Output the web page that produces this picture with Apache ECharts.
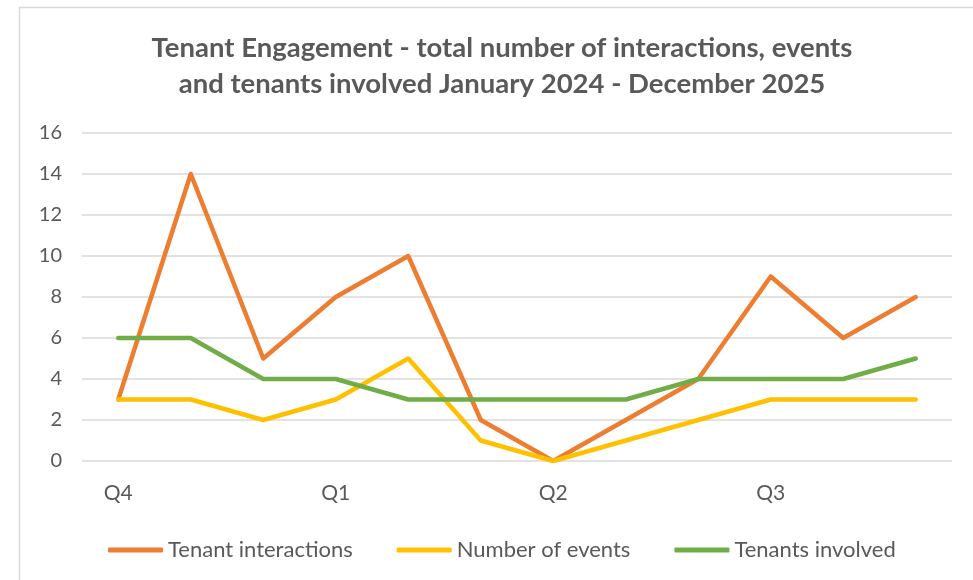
<!DOCTYPE html>
<html>
<head>
<meta charset="utf-8">
<script src="https://cdn.jsdelivr.net/npm/echarts@6/dist/echarts.min.js"></script>
<style>
    html, body { margin: 0; padding: 0; background: #fff; }
    #chart { width: 973px; height: 580px; }
</style>
</head>
<body>
<div id="chart"></div>
<script>
// 横轴：每个季度三个点，只在季度开头写标签
const categories = ['Q4', '', '', 'Q1', '', '', 'Q2', '', '', 'Q3', '', '']
const interactions = [3, 14, 5, 8, 10, 2, 0, 2, 4, 9, 6, 8]
const events = [3, 3, 2, 3, 5, 1, 0, 1, 2, 3, 3, 3]
const tenants = [6, 6, 4, 4, 3, 3, 3, 3, 4, 4, 4, 5]
const seriesNames = ['Tenant interactions', 'Number of events', 'Tenants involved']

const font = 'Lato, "Liberation Sans", sans-serif'
const grey = '#595959'

function makeLine (name, data, color) {
    return {
        name,
        type: 'line',
        data,
        symbol: 'none',
        lineStyle: { color, width: 4.5, cap: 'round', join: 'round' },
        itemStyle: { color }
    }
}

const chart = echarts.init(document.getElementById('chart'))
const option = {
    animation: false,
    textStyle: { fontFamily: font },
    title: {
        text: 'Tenant Engagement - total number of interactions, events\nand tenants involved January 2024 - December 2025',
        left: 497,
        top: 25,
        textAlign: 'center',
        textStyle: {
            fontFamily: font,
            fontSize: 27.5,
            fontWeight: 'bold',
            color: grey,
            lineHeight: 36
        }
    },
    // 外框
    graphic: [{
        type: 'rect',
        shape: { x: 19.5, y: 7.5, width: 1000, height: 1000 },
        style: { fill: 'none', stroke: '#d9d9d9', lineWidth: 1.5 },
        silent: true
    }],
    legend: {
        left: 103,
        top: 534,
        icon: 'roundRect',
        itemWidth: 55,
        itemHeight: 5,
        itemGap: 44,
        data: seriesNames,
        textStyle: { fontFamily: font, fontSize: 22, color: grey }
    },
    grid: {
        left: 82,
        right: 21,
        top: 133,
        bottom: 119,
        containLabel: false
    },
    xAxis: {
        type: 'category',
        data: categories,
        boundaryGap: true,
        axisLine: { show: false },
        axisTick: { show: false },
        axisLabel: {
            interval: 0,
            margin: 22,
            fontSize: 21,
            color: grey,
            fontFamily: font
        }
    },
    yAxis: {
        type: 'value',
        min: 0,
        max: 16,
        interval: 2,
        axisLine: { show: false },
        axisTick: { show: false },
        axisLabel: { margin: 20, fontSize: 20, color: grey, fontFamily: font },
        splitLine: { lineStyle: { color: '#d9d9d9', width: 1.5 } }
    },
    series: [
        makeLine(seriesNames[0], interactions, '#ED7D31'),
        makeLine(seriesNames[1], events, '#FFC000'),
        makeLine(seriesNames[2], tenants, '#70AD47')
    ]
}
chart.setOption(option)
</script>
</body>
</html>
